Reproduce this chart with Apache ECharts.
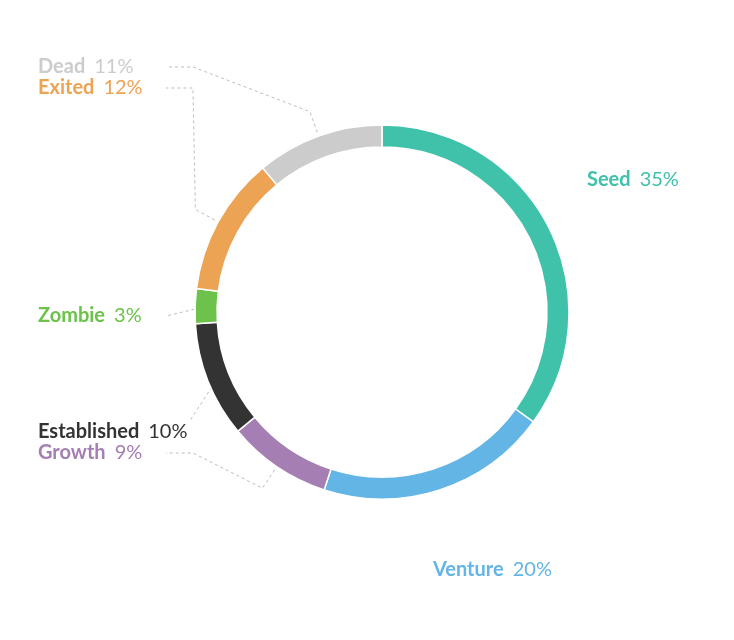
<!DOCTYPE html>
<html>
<head>
<meta charset="utf-8">
<script src="https://cdn.jsdelivr.net/npm/echarts@6/dist/echarts.min.js"></script>
<style>
  html, body { margin: 0; padding: 0; background: #fff; }
  #main { width: 734px; height: 640px; }
</style>
</head>
<body>
<div id="main"></div>
<script>
// 数据
var stages = ['Seed', 'Venture', 'Growth', 'Established', 'Zombie', 'Exited', 'Dead'];
var shares = [35, 20, 9, 10, 3, 12, 11];
var stageColors = ['#40c1aa', '#62b5e5', '#a57fb3', '#333333', '#6cc24a', '#eda354', '#cccccc'];

// 标签位置 (左对齐, 垂直居中)
var labelSpots = [[587, 180], [433, 570], [38, 453], [38, 432], [38, 316], [38, 88], [38, 67]];
var showGuide = [false, false, true, true, true, true, true];

var cx = 382, cy = 312, rOuter = 187, rInner = 165;
var total = shares.reduce(function (a, b) { return a + b; }, 0);
var labelFont = 'Lato, "Noto Sans", sans-serif';

function midAngle(i) {
    var before = 0;
    for (var k = 0; k < i; k++) before += shares[k];
    return (before + shares[i] / 2) / total * Math.PI * 2;
}
function polar(r, t) {
    return [cx + r * Math.sin(t), cy - r * Math.cos(t)];
}

var myChart = echarts.init(document.getElementById('main'));

var option = {
    backgroundColor: '#fff',
    animation: false,
    series: [{
        type: 'pie',
        center: [cx, cy],
        radius: [rInner, rOuter],
        startAngle: 90,
        clockwise: true,
        avoidLabelOverlap: false,
        itemStyle: { borderColor: '#fff', borderWidth: 1.5 },
        emphasis: { disabled: true },
        label: {
            show: true,
            position: 'outside',
            fontFamily: labelFont,
            fontSize: 20,
            formatter: '{n|{b}}{p|{c}%}',
            rich: {
                n: { fontWeight: 'bold', fontSize: 20, fontFamily: labelFont },
                p: { fontWeight: 'normal', fontSize: 20, padding: [0, 0, 0, 9], fontFamily: labelFont }
            }
        },
        labelLine: {
            show: true,
            lineStyle: { color: '#bdbdbd', width: 1, type: [3, 3] }
        },
        labelLayout: function (params) {
            var i = params.dataIndex;
            var spot = labelSpots[i];
            var res = { x: spot[0], y: spot[1], align: 'left', verticalAlign: 'middle' };
            if (showGuide[i]) {
                var t = midAngle(i);
                var right = spot[0] + params.labelRect.width;
                var endX = Math.max(166, right + 3);
                var elbow = polar(213, t);
                if (elbow[0] > 193) {
                    res.labelLinePoints = [polar(191, t), elbow, [193, spot[1]], [endX, spot[1]]];
                } else {
                    var yEnd = endX > 166 ? spot[1] - 12 : spot[1];
                    res.labelLinePoints = [polar(176, t), [endX, yEnd]];
                }
            }
            return res;
        },
        data: stages.map(function (name, i) {
            return {
                name: name,
                value: shares[i],
                itemStyle: { color: stageColors[i] },
                label: { color: stageColors[i] },
                labelLine: { show: showGuide[i] }
            };
        })
    }]
};

myChart.setOption(option);
</script>
</body>
</html>
